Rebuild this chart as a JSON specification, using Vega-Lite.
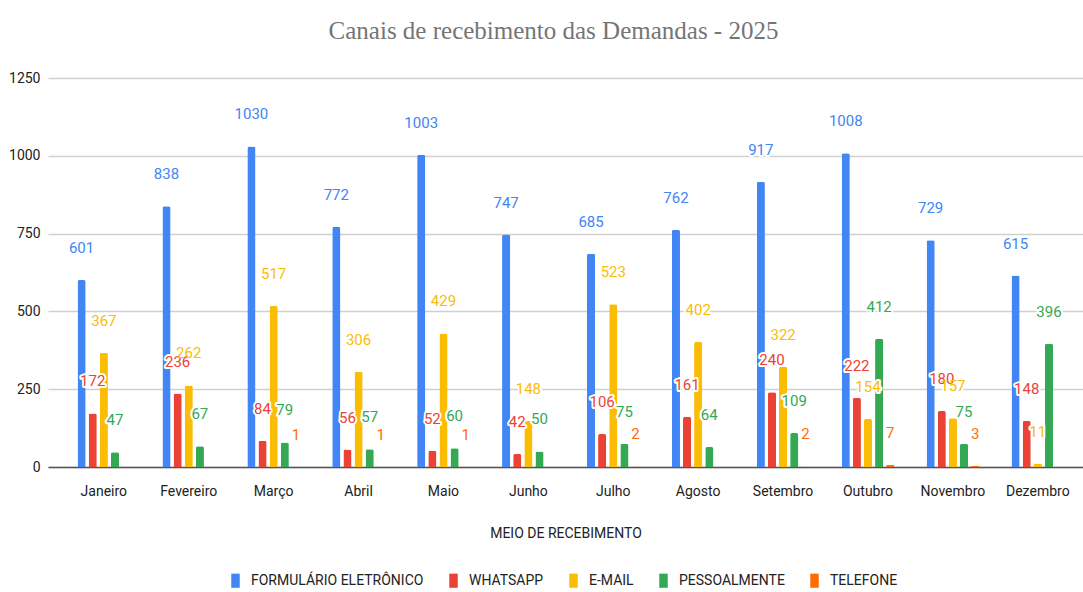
{
  "$schema": "https://vega.github.io/schema/vega-lite/v6.json",
  "autosize": {"type": "none"},
  "padding": {"left": 48, "top": 78, "right": 0, "bottom": 125},
  "width": 1035,
  "height": 389,
  "background": "white",
  "title": {
    "text": "Canais de recebimento das Demandas - 2025",
    "font": "Liberation Serif",
    "fontSize": 25,
    "fontWeight": "normal",
    "color": "#757575",
    "anchor": "middle",
    "dx": -12,
    "offset": 27
  },
  "data": {
    "values": [
      {"mes": "Janeiro", "meio": "FORMULÁRIO ELETRÔNICO", "valor": 601},
      {"mes": "Janeiro", "meio": "WHATSAPP", "valor": 172},
      {"mes": "Janeiro", "meio": "E-MAIL", "valor": 367},
      {"mes": "Janeiro", "meio": "PESSOALMENTE", "valor": 47},
      {"mes": "Janeiro", "meio": "TELEFONE", "valor": 0},
      {"mes": "Fevereiro", "meio": "FORMULÁRIO ELETRÔNICO", "valor": 838},
      {"mes": "Fevereiro", "meio": "WHATSAPP", "valor": 236},
      {"mes": "Fevereiro", "meio": "E-MAIL", "valor": 262},
      {"mes": "Fevereiro", "meio": "PESSOALMENTE", "valor": 67},
      {"mes": "Fevereiro", "meio": "TELEFONE", "valor": 0},
      {"mes": "Março", "meio": "FORMULÁRIO ELETRÔNICO", "valor": 1030},
      {"mes": "Março", "meio": "WHATSAPP", "valor": 84},
      {"mes": "Março", "meio": "E-MAIL", "valor": 517},
      {"mes": "Março", "meio": "PESSOALMENTE", "valor": 79},
      {"mes": "Março", "meio": "TELEFONE", "valor": 1},
      {"mes": "Abril", "meio": "FORMULÁRIO ELETRÔNICO", "valor": 772},
      {"mes": "Abril", "meio": "WHATSAPP", "valor": 56},
      {"mes": "Abril", "meio": "E-MAIL", "valor": 306},
      {"mes": "Abril", "meio": "PESSOALMENTE", "valor": 57},
      {"mes": "Abril", "meio": "TELEFONE", "valor": 1},
      {"mes": "Maio", "meio": "FORMULÁRIO ELETRÔNICO", "valor": 1003},
      {"mes": "Maio", "meio": "WHATSAPP", "valor": 52},
      {"mes": "Maio", "meio": "E-MAIL", "valor": 429},
      {"mes": "Maio", "meio": "PESSOALMENTE", "valor": 60},
      {"mes": "Maio", "meio": "TELEFONE", "valor": 1},
      {"mes": "Junho", "meio": "FORMULÁRIO ELETRÔNICO", "valor": 747},
      {"mes": "Junho", "meio": "WHATSAPP", "valor": 42},
      {"mes": "Junho", "meio": "E-MAIL", "valor": 148},
      {"mes": "Junho", "meio": "PESSOALMENTE", "valor": 50},
      {"mes": "Junho", "meio": "TELEFONE", "valor": 0},
      {"mes": "Julho", "meio": "FORMULÁRIO ELETRÔNICO", "valor": 685},
      {"mes": "Julho", "meio": "WHATSAPP", "valor": 106},
      {"mes": "Julho", "meio": "E-MAIL", "valor": 523},
      {"mes": "Julho", "meio": "PESSOALMENTE", "valor": 75},
      {"mes": "Julho", "meio": "TELEFONE", "valor": 2},
      {"mes": "Agosto", "meio": "FORMULÁRIO ELETRÔNICO", "valor": 762},
      {"mes": "Agosto", "meio": "WHATSAPP", "valor": 161},
      {"mes": "Agosto", "meio": "E-MAIL", "valor": 402},
      {"mes": "Agosto", "meio": "PESSOALMENTE", "valor": 64},
      {"mes": "Agosto", "meio": "TELEFONE", "valor": 0},
      {"mes": "Setembro", "meio": "FORMULÁRIO ELETRÔNICO", "valor": 917},
      {"mes": "Setembro", "meio": "WHATSAPP", "valor": 240},
      {"mes": "Setembro", "meio": "E-MAIL", "valor": 322},
      {"mes": "Setembro", "meio": "PESSOALMENTE", "valor": 109},
      {"mes": "Setembro", "meio": "TELEFONE", "valor": 2},
      {"mes": "Outubro", "meio": "FORMULÁRIO ELETRÔNICO", "valor": 1008},
      {"mes": "Outubro", "meio": "WHATSAPP", "valor": 222},
      {"mes": "Outubro", "meio": "E-MAIL", "valor": 154},
      {"mes": "Outubro", "meio": "PESSOALMENTE", "valor": 412},
      {"mes": "Outubro", "meio": "TELEFONE", "valor": 7},
      {"mes": "Novembro", "meio": "FORMULÁRIO ELETRÔNICO", "valor": 729},
      {"mes": "Novembro", "meio": "WHATSAPP", "valor": 180},
      {"mes": "Novembro", "meio": "E-MAIL", "valor": 157},
      {"mes": "Novembro", "meio": "PESSOALMENTE", "valor": 75},
      {"mes": "Novembro", "meio": "TELEFONE", "valor": 3},
      {"mes": "Dezembro", "meio": "FORMULÁRIO ELETRÔNICO", "valor": 615},
      {"mes": "Dezembro", "meio": "WHATSAPP", "valor": 148},
      {"mes": "Dezembro", "meio": "E-MAIL", "valor": 11},
      {"mes": "Dezembro", "meio": "PESSOALMENTE", "valor": 396},
      {"mes": "Dezembro", "meio": "TELEFONE", "valor": 0}
    ]
  },
  "encoding": {
    "x": {
      "field": "mes",
      "type": "nominal",
      "sort": ["Janeiro", "Fevereiro", "Março", "Abril", "Maio", "Junho", "Julho", "Agosto", "Setembro", "Outubro", "Novembro", "Dezembro"],
      "scale": {"paddingInner": 0.38, "paddingOuter": 0.285, "align": 0.61},
      "axis": {
        "title": "MEIO DE RECEBIMENTO",
        "labelAngle": 0,
        "labelFont": "Roboto",
        "labelFontSize": 14,
        "labelColor": "#222222",
        "labelPadding": 17,
        "ticks": false,
        "domainColor": "#555555",
        "domainWidth": 1.5,
        "titleFont": "Roboto",
        "titleFontSize": 14,
        "titleFontWeight": "normal",
        "titleColor": "#222222",
        "titlePadding": 28
      }
    },
    "xOffset": {
      "field": "meio",
      "type": "nominal",
      "sort": ["FORMULÁRIO ELETRÔNICO", "WHATSAPP", "E-MAIL", "PESSOALMENTE", "TELEFONE"],
      "scale": {"paddingInner": 0.27}
    },
    "y": {
      "field": "valor",
      "type": "quantitative",
      "scale": {"domain": [0, 1250], "nice": false},
      "axis": {
        "title": null,
        "values": [0, 250, 500, 750, 1000, 1250],
        "format": "d",
        "labelFont": "Roboto",
        "labelFontSize": 14,
        "labelColor": "#222222",
        "labelPadding": 8,
        "ticks": false,
        "domain": false,
        "gridColor": "#d0d0d0",
        "gridWidth": 1.5
      }
    }
  },
  "layer": [
    {
      "mark": {"type": "bar", "cornerRadiusTopLeft": 2, "cornerRadiusTopRight": 2},
      "encoding": {
        "color": {
          "field": "meio",
          "type": "nominal",
          "sort": ["FORMULÁRIO ELETRÔNICO", "WHATSAPP", "E-MAIL", "PESSOALMENTE", "TELEFONE"],
          "scale": {
            "domain": ["FORMULÁRIO ELETRÔNICO", "WHATSAPP", "E-MAIL", "PESSOALMENTE", "TELEFONE"],
            "range": ["#4285F4", "#EA4335", "#FBBC04", "#34A853", "#FF6D01"]
          },
          "legend": {
            "title": null,
            "orient": "none",
            "direction": "horizontal",
            "legendX": 180,
            "legendY": 495,
            "symbolType": "M-0.6,-1H0.6V1H-0.6Z",
            "symbolSize": 200,
            "symbolStrokeWidth": 0,
            "symbolOpacity": 1,
            "labelFont": "Roboto",
            "labelFontSize": 14,
            "labelColor": "#222222",
            "labelOffset": 8,
            "columnPadding": 22,
            "labelLimit": 300
          }
        }
      }
    },
    {
      "transform": [{"filter": "datum.valor > 0"}],
      "mark": {"type": "text", "dy": -32, "font": "Roboto", "fontSize": 15, "fill": "white", "stroke": "white", "strokeWidth": 4, "strokeJoin": "round", "baseline": "middle"},
      "encoding": {"text": {"field": "valor", "type": "quantitative"}}
    },
    {
      "transform": [{"filter": "datum.valor > 0"}],
      "mark": {"type": "text", "dy": -32, "font": "Roboto", "fontSize": 15, "baseline": "middle"},
      "encoding": {
        "text": {"field": "valor", "type": "quantitative"},
        "color": {"field": "meio", "type": "nominal", "sort": ["FORMULÁRIO ELETRÔNICO", "WHATSAPP", "E-MAIL", "PESSOALMENTE", "TELEFONE"]}
      }
    }
  ],
  "config": {"view": {"stroke": null}}
}
